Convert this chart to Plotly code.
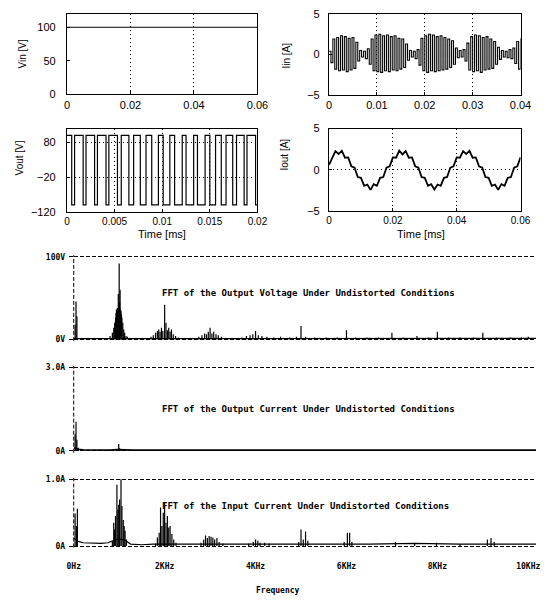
import plotly.graph_objects as go

W, H = 547, 604

# ---------------- time-domain waveforms ----------------
vin_t = [0.0, 0.06]
vin_v = [100, 100]

iin_t = [0.0000, 0.0004, 0.0008, 0.0012, 0.0016, 0.0020, 0.0024, 0.0028, 0.0032, 0.0036,
         0.0040, 0.0044, 0.0048, 0.0052, 0.0056, 0.0060, 0.0064, 0.0068, 0.0072, 0.0076,
         0.0080, 0.0084, 0.0088, 0.0092, 0.0096, 0.0100, 0.0104, 0.0108, 0.0112, 0.0116,
         0.0120, 0.0124, 0.0128, 0.0132, 0.0136, 0.0140, 0.0144, 0.0148, 0.0152, 0.0156,
         0.0160, 0.0164, 0.0168, 0.0172, 0.0176, 0.0180, 0.0184, 0.0188, 0.0192, 0.0196,
         0.0200, 0.0204, 0.0208, 0.0212, 0.0216, 0.0220, 0.0224, 0.0228, 0.0232, 0.0236,
         0.0240, 0.0244, 0.0248, 0.0252, 0.0256, 0.0260, 0.0264, 0.0268, 0.0272, 0.0276,
         0.0280, 0.0284, 0.0288, 0.0292, 0.0296, 0.0300, 0.0304, 0.0308, 0.0312, 0.0316,
         0.0320, 0.0324, 0.0328, 0.0332, 0.0336, 0.0340, 0.0344, 0.0348, 0.0352, 0.0356,
         0.0360, 0.0364, 0.0368, 0.0372, 0.0376, 0.0380, 0.0384, 0.0388, 0.0392, 0.0396,
         0.0400]
iin_a = [0.4, -1.0, 1.9, -1.8, 2.1, -2.0, 2.3, -1.9, 2.2, -2.1,
         2.0, -1.9, 2.1, -1.7, 1.5, -0.8, 0.5, -0.3, 0.4, -0.5,
         0.7, -1.2, 1.9, -2.0, 2.4, -2.1, 2.5, -2.2, 2.3, -2.0,
         2.4, -2.1, 2.2, -1.9, 2.3, -2.0, 2.0, -1.8, 1.9, -1.6,
         1.3, -0.7, 0.5, -0.3, 0.4, -0.5, 0.6, -1.3, 2.0, -2.0,
         2.3, -2.2, 2.5, -2.0, 2.4, -2.1, 2.2, -2.0, 2.3, -1.9,
         2.1, -1.8, 1.9, -1.6, 1.7, -1.2, 0.8, -0.4, 0.5, -0.3,
         0.6, -0.8, 1.4, -1.9, 2.2, -2.1, 2.4, -2.0, 2.3, -2.2,
         2.1, -1.9, 2.2, -1.8, 1.9, -1.7, 1.6, -1.2, 0.9, -0.6,
         0.5, -0.3, 0.4, -0.4, 0.6, -0.5, 0.8, -1.1, 1.6, -1.8,
         2.0]

# PWM output voltage: switching instants and level after each edge
vout_t = [0.0, 0.0005, 0.0008, 0.0017, 0.0020, 0.0029, 0.0032, 0.0041, 0.0044, 0.0053,
          0.0057, 0.0065, 0.0070, 0.0077, 0.0083, 0.0089, 0.0096, 0.0101, 0.0108, 0.0113,
          0.0121, 0.0125, 0.0133, 0.0137, 0.0145, 0.0150, 0.0156, 0.0162, 0.0167, 0.0174,
          0.0178, 0.0186, 0.0189, 0.0198, 0.0200]
vout_v = [100, -100, 100, -100, 100, -100, 100, -100, 100, -100,
          100, -100, 100, -100, 100, -100, 100, -100, 100, -100,
          100, -100, 100, -100, 100, -100, 100, -100, 100, -100,
          100, -100, 100, -100, -100]

iout_t = [0.000, 0.001, 0.002, 0.003, 0.004, 0.005, 0.006, 0.007, 0.008, 0.009,
          0.010, 0.011, 0.012, 0.013, 0.014, 0.015, 0.016, 0.017, 0.018, 0.019,
          0.020, 0.021, 0.022, 0.023, 0.024, 0.025, 0.026, 0.027, 0.028, 0.029,
          0.030, 0.031, 0.032, 0.033, 0.034, 0.035, 0.036, 0.037, 0.038, 0.039,
          0.040, 0.041, 0.042, 0.043, 0.044, 0.045, 0.046, 0.047, 0.048, 0.049,
          0.050, 0.051, 0.052, 0.053, 0.054, 0.055, 0.056, 0.057, 0.058, 0.059,
          0.060]
iout_a = [0.60, 1.45, 2.25, 1.90, 2.30, 1.45, 1.49, 0.40, 0.25, -0.90,
          -0.99, -1.95, -1.80, -2.45, -1.75, -1.95, -0.99, -0.90, 0.25, 0.40,
          1.49, 1.45, 2.30, 1.85, 2.25, 1.45, 1.49, 0.40, 0.25, -0.90,
          -0.99, -1.95, -1.75, -2.40, -1.80, -1.95, -0.99, -0.90, 0.25, 0.40,
          1.49, 1.45, 2.25, 1.90, 2.30, 1.45, 1.49, 0.40, 0.25, -0.90,
          -0.99, -1.95, -1.80, -2.45, -1.75, -1.95, -0.99, -0.90, 0.25, 0.40,
          1.49]

# ---------------- spectra: spike frequency [kHz] and height ----------------
fv_f = [0.03, 0.05, 0.07,
        0.80, 0.85, 0.88, 0.90, 0.92, 0.93, 0.94, 0.95, 0.96, 0.97, 0.98, 0.99, 1.00,
        1.01, 1.02, 1.03, 1.04, 1.05, 1.06, 1.08, 1.10, 1.12, 1.15, 1.18,
        1.70, 1.75, 1.80, 1.84, 1.87, 1.90, 1.93, 1.96, 2.00, 2.03, 2.06, 2.09, 2.12,
        2.15, 2.19, 2.24, 2.30,
        2.75, 2.82, 2.88, 2.92, 2.96, 3.00, 3.04, 3.08, 3.13, 3.18, 3.25,
        3.70, 3.80, 3.88, 3.94, 4.00, 4.06, 4.14, 4.25, 4.40, 4.55,
        4.75, 4.90, 5.00, 5.10, 5.30, 5.55, 5.80, 6.00, 6.20, 6.45, 6.70,
        7.00, 7.25, 7.55, 7.80, 8.00, 8.25, 8.50, 8.80, 9.00, 9.30, 9.60, 9.85, 10.00]
fv_a = [18, 46, 28,
        4, 8, 14, 20, 26, 32, 36, 30, 38, 34, 55, 40, 92,
        45, 60, 36, 34, 30, 26, 20, 12, 8, 4, 3,
        3, 5, 8, 10, 12, 9, 14, 10, 42, 20, 11, 14, 9,
        12, 6, 4, 2,
        3, 5, 7, 6, 9, 14, 7, 9, 6, 5, 3,
        2, 4, 5, 6, 10, 5, 4, 3, 2, 3,
        2, 3, 16, 3, 2, 2, 2, 11, 2, 2, 2,
        8, 2, 4, 2, 9, 2, 2, 2, 8, 2, 2, 2, 3]
fv_floor_f = [0.0, 0.2, 0.6, 0.8, 1.2, 1.4, 1.7, 2.3, 2.6, 3.0, 3.5, 4.0, 5.0, 6.0, 7.0, 8.0, 9.0, 10.2]
fv_floor_a = [0.8, 0.8, 0.8, 1.5, 1.5, 0.8, 1.0, 1.6, 1.0, 1.4, 0.9, 1.3, 1.0, 1.1, 0.9, 1.1, 1.0, 1.0]

fio_f = [0.03, 0.05, 0.07, 0.10, 0.15, 0.97, 0.99, 1.01, 1.04, 2.00, 3.00]
fio_a = [0.60, 1.05, 0.40, 0.12, 0.06, 0.06, 0.25, 0.10, 0.05, 0.03, 0.02]
fio_floor_f = [0.0, 0.1, 0.2, 0.4, 0.8, 0.95, 1.1, 1.3, 10.2]
fio_floor_a = [0.12, 0.06, 0.04, 0.03, 0.03, 0.05, 0.04, 0.03, 0.03]

fii_f = [0.03, 0.06, 0.08,
         0.85, 0.88, 0.90, 0.92, 0.95, 0.97, 0.99, 1.01, 1.04, 1.06, 1.09, 1.11, 1.13, 1.16,
         1.80, 1.84, 1.88, 1.91, 1.94, 1.97, 2.00, 2.03, 2.06, 2.09, 2.12, 2.16, 2.20, 2.25,
         2.80, 2.86, 2.90, 2.94, 2.98, 3.02, 3.06, 3.10, 3.15, 3.20, 3.28,
         3.85, 3.95, 4.00, 4.05, 4.10, 4.20, 4.30,
         4.95, 5.00, 5.05, 5.10, 5.15, 5.95, 6.02, 6.07, 6.12,
         7.08, 7.50, 7.98, 8.50, 9.10, 9.18, 9.25]
fii_a = [0.49, 0.30, 0.56,
         0.08, 0.35, 0.25, 0.45, 0.92, 0.55, 0.62, 0.70, 1.00, 0.60, 0.39, 0.30, 0.23, 0.10,
         0.04, 0.13, 0.20, 0.58, 0.30, 0.50, 0.65, 0.35, 0.45, 0.28, 0.30, 0.18, 0.10, 0.05,
         0.05, 0.10, 0.16, 0.12, 0.15, 0.14, 0.13, 0.10, 0.12, 0.06, 0.04,
         0.04, 0.06, 0.10, 0.08, 0.05, 0.05, 0.04,
         0.06, 0.25, 0.10, 0.22, 0.08, 0.06, 0.20, 0.20, 0.06,
         0.06, 0.04, 0.05, 0.03, 0.10, 0.12, 0.06]
fii_floor_f = [0.0, 0.05, 0.1, 0.2, 0.4, 0.6, 0.75, 0.85, 0.95, 1.05, 1.15, 1.25, 1.5, 1.75,
               2.3, 2.6, 3.5, 4.5, 5.5, 6.5, 7.5, 8.5, 10.2]
fii_floor_a = [0.12, 0.10, 0.07, 0.05, 0.04, 0.04, 0.05, 0.08, 0.10, 0.10, 0.08, 0.03, 0.02, 0.03,
               0.03, 0.02, 0.03, 0.03, 0.03, 0.03, 0.04, 0.03, 0.03]

freq_ticks = [0, 2, 4, 6, 8, 10]
freq_labels = ["0Hz", "2KHz", "4KHz", "6KHz", "8KHz", "10KHz"]


def px(x):
    return x / W


def py(y):
    return 1 - y / H


def spikes(f, a):
    xs, ys = [], []
    for fi, ai in zip(f, a):
        xs += [fi, fi, None]
        ys += [0, ai, None]
    return xs, ys


SANS = "Liberation Sans"
MONO = "DejaVu Sans Mono"
BLK = "black"
DOT = "1px,3px"
DASH = "4px,2px"
F_MAX = 10.17  # right edge of the spectra (the scan is cut just past 10 kHz)

fig = go.Figure()

fig.add_trace(go.Scatter(x=vin_t, y=vin_v, mode="lines", line=dict(color=BLK, width=1.2),
                         xaxis="x", yaxis="y"))
fig.add_trace(go.Scatter(x=iin_t, y=iin_a, mode="lines", line=dict(color=BLK, width=1.1, shape="hv"),
                         xaxis="x2", yaxis="y2"))
fig.add_trace(go.Scatter(x=vout_t, y=vout_v, mode="lines", line=dict(color=BLK, width=1.2, shape="hv"),
                         xaxis="x3", yaxis="y3"))
fig.add_trace(go.Scatter(x=iout_t, y=iout_a, mode="lines", line=dict(color=BLK, width=1.8),
                         xaxis="x4", yaxis="y4"))

for n, (sf, sa, ff, fa) in enumerate([(fv_f, fv_a, fv_floor_f, fv_floor_a),
                                      (fio_f, fio_a, fio_floor_f, fio_floor_a),
                                      (fii_f, fii_a, fii_floor_f, fii_floor_a)]):
    ax = str(n + 5)
    xs, ys = spikes(sf, sa)
    fig.add_trace(go.Scatter(x=xs, y=ys, mode="lines", line=dict(color=BLK, width=1.2),
                             xaxis="x" + ax, yaxis="y" + ax))
    fig.add_trace(go.Scatter(x=ff, y=fa, mode="lines", line=dict(color=BLK, width=1.6 if n == 1 else 1.2),
                             xaxis="x" + ax, yaxis="y" + ax))


def box_axis(**kw):
    d = dict(showline=True, mirror=True, linecolor=BLK, linewidth=1.2, ticks="inside", ticklen=3,
             tickcolor=BLK, tickfont=dict(family=SANS, size=11, color=BLK), zeroline=False,
             showgrid=False, gridcolor=BLK, griddash=DOT, gridwidth=1)
    d.update(kw)
    return d


def fft_y(dom, rng, vals, labels):
    return dict(domain=dom, range=rng, tickvals=vals, ticktext=labels, showgrid=True, gridcolor=BLK,
                griddash=DASH, gridwidth=1, ticks="outside", ticklen=4, tickcolor=BLK, zeroline=False,
                showline=False, tickfont=dict(family=MONO, size=8, color=BLK, weight="bold"),
                ticklabelstandoff=2)


fft_x_dom = [px(69), 1.0]
hidden_x = dict(domain=fft_x_dom, range=[0, F_MAX], showticklabels=False, ticks="", showgrid=False,
                zeroline=False, showline=False)
small = dict(family=SANS, size=10, color=BLK)

fig.update_layout(
    width=W, height=H, margin=dict(l=0, r=0, t=0, b=0), showlegend=False,
    paper_bgcolor="white", plot_bgcolor="white",
    xaxis=box_axis(domain=[px(62), px(259)], range=[0, 0.06], tickvals=[0, 0.02, 0.04, 0.06],
                   ticktext=["0", "0.02", "0.04", "0.06"], showgrid=True, anchor="y"),
    yaxis=box_axis(domain=[py(90), py(8)], range=[0, 120], tickvals=[0, 50, 100], anchor="x",
                   ticklabelstandoff=8),
    xaxis2=box_axis(domain=[px(333), px(531)], range=[0, 0.04], tickvals=[0, 0.01, 0.02, 0.03, 0.04],
                    ticktext=["0", "0.01", "0.02", "0.03", "0.04"], showgrid=True, anchor="y2"),
    yaxis2=box_axis(domain=[py(91), py(8)], range=[-5, 5], tickvals=[-5, 0, 5],
                    ticktext=["\u22125", "0", "5"], anchor="x2", ticklabelstandoff=6),
    xaxis3=box_axis(domain=[px(62), px(259)], range=[0, 0.02], tickvals=[0, 0.005, 0.01, 0.015, 0.02],
                    ticktext=["0", "0.005", "0.01", "0.015", "0.02"], showgrid=True, anchor="y3",
                    tickfont=small),
    yaxis3=box_axis(domain=[py(210), py(125)], range=[-120, 120], tickvals=[-120, -20, 80],
                    ticktext=["\u2212120", "\u221220", "80"], showgrid=True, anchor="x3",
                    ticklabelstandoff=8),
    xaxis4=box_axis(domain=[px(333), px(531)], range=[0, 0.06], tickvals=[0, 0.02, 0.04, 0.06],
                    ticktext=["0", "0.02", "0.04", "0.06"], showgrid=True, anchor="y4", tickfont=small),
    yaxis4=box_axis(domain=[py(209), py(125)], range=[-5, 5], tickvals=[-5, 0, 5],
                    ticktext=["\u22125", "0", "5"], showgrid=True, anchor="x4", ticklabelstandoff=6),
    xaxis5=dict(hidden_x, anchor="y5"),
    yaxis5=dict(fft_y([py(341.7), py(254.3)], [-2, 102], [0, 100], ["0V", "100V"]), anchor="x5"),
    xaxis6=dict(hidden_x, anchor="y6"),
    yaxis6=dict(fft_y([py(455.7), py(367.3)], [-0.06, 3.06], [0, 3], ["0A", "3.0A"]), anchor="x6"),
    xaxis7=dict(domain=fft_x_dom, range=[0, F_MAX], tickvals=freq_ticks, ticktext=freq_labels, ticks="",
                showgrid=False, zeroline=False, showline=False, anchor="y7", ticklabelstandoff=13,
                ticklabeloverflow="allow",
                tickfont=dict(family=MONO, size=8, color=BLK, weight="bold")),
    yaxis7=dict(fft_y([py(552.4), py(481.6)], [-0.02, 1.02], [0, 1], ["0A", "1.0A"]), anchor="x7"),
)

# dashed left edge of each spectrum panel
for ax in ["5", "6", "7"]:
    fig.add_shape(type="line", xref="x%s domain" % ax, yref="y%s domain" % ax, x0=0, x1=0, y0=0, y1=1,
                  line=dict(color=BLK, width=1, dash=DASH))


def label(txt, x, y, font, angle=0, xanchor="center"):
    return dict(text=txt, x=px(x), y=py(y), xref="paper", yref="paper", showarrow=False, textangle=angle,
                xanchor=xanchor, yanchor="middle", font=font)


ann = []
for txt, x, y in [("Vin [V]", 16, 49), ("Iin [A]", 289, 50), ("Vout [V]", 13, 155), ("Iout [A]", 287, 152)]:
    ann.append(label(txt, x, y, dict(family=SANS, size=10, color=BLK), angle=-90))
for x in [160, 428]:
    ann.append(label("Time [ms]", x, 233, dict(family=SANS, size=11, color=BLK)))
for txt, y in [("FFT of the Output Voltage Under Undistorted Conditions", 293),
               ("FFT of the Output Current Under Undistorted Conditions", 411),
               ("FFT of the Input Current Under Undistorted Conditions", 510)]:
    ann.append(label(txt, 158, y, dict(family=MONO, size=9, color=BLK, weight="bold"), xanchor="left"))
ann.append(label("Frequency", 280, 596, dict(family=MONO, size=8, color=BLK, weight="bold")))
fig.update_layout(annotations=ann)

# pin the 547x604 figure to the window's top-left corner (no default body margin)
pin = ("document.body.style.margin='0';"
       "document.documentElement.style.overflow='hidden';"
       "var g=document.getElementById('{plot_id}');"
       "g.style.position='fixed';g.style.left='0px';g.style.top='0px';")
fig.write_html("out.html", post_script=pin, config={"displayModeBar": False})
